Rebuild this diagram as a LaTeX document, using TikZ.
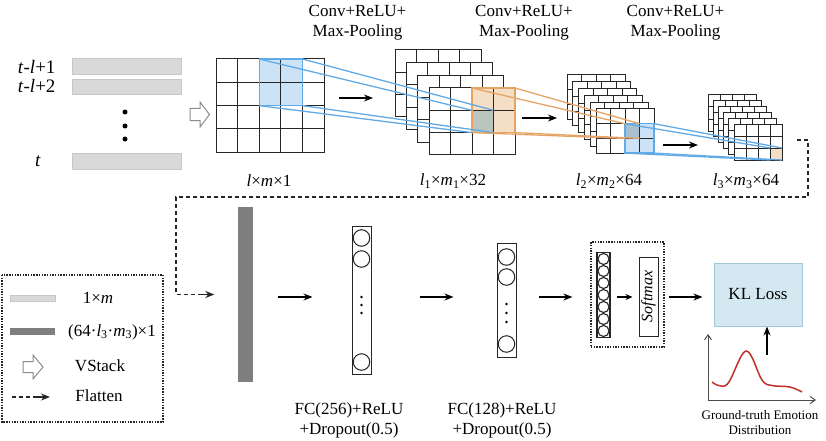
\documentclass[tikz,border=0pt]{standalone}
\usepackage{fontspec}
\setmainfont{Liberation Serif}
\usetikzlibrary{arrows.meta}
\definecolor{barL}{HTML}{D9D9D9}
\definecolor{barLd}{HTML}{C8C8C8}
\definecolor{barD}{HTML}{7F7F7F}
\definecolor{blueF}{HTML}{CCE3F7}
\definecolor{blueL}{HTML}{62AAE6}
\definecolor{orF}{HTML}{F5DEC6}
\definecolor{orL}{HTML}{E4A466}
\definecolor{ovA}{HTML}{BAC5BE}
\definecolor{ovB}{HTML}{A9C1CF}
\definecolor{klF}{HTML}{D3E8F0}
\definecolor{klL}{HTML}{A2C8DA}
\definecolor{redc}{HTML}{C0302A}
\newcommand\fs{\fontsize{17}{20}\selectfont}
\newcommand\sub[1]{\textsubscript{#1}}
\newcommand\fmapbg[6]{\fill[white] ({#1},{#2}) rectangle ({#1+#3*#5},{#2+#4*#6});}
\newcommand\fmapgrid[6]{%
  \foreach \ii in {0,...,#3}{\draw[gridline] ({#1+\ii*#5},{#2}) -- ({#1+\ii*#5},{#2+#4*#6});}%
  \foreach \jj in {0,...,#4}{\draw[gridline] ({#1},{#2+\jj*#6}) -- ({#1+#3*#5},{#2+\jj*#6});}%
}
\begin{document}
\begin{tikzpicture}[x=1pt,y=-1pt,
  every node/.style={font=\fs},
  gridline/.style={draw=black!85,line width=1pt,line cap=rect},
  arr/.style={-{Stealth[length=9pt,width=7pt]},line width=1.2pt},
  blueline/.style={draw=blueL,line width=1.3pt},
  orline/.style={draw=orL,line width=1.3pt},
  inbar/.style={fill=barL,draw=barLd,line width=0.6pt},
  boxn/.style={draw=black!85,line width=1pt,inner sep=0pt,fill=white},
  neuron/.style={draw=black!85,line width=1pt,circle,inner sep=0pt},
  dotbox/.style={draw=black!85,line width=1.2pt,dash pattern=on 1.4pt off 1.3pt},
  flat/.style={draw=black!85,line width=1.1pt,dash pattern=on 4pt off 3pt}]
\useasboundingbox (0,0) rectangle (826,441);

% ---------- input rows ----------
\filldraw[inbar] (72,58) rectangle (181,74);
\filldraw[inbar] (72,79) rectangle (181,94);
\filldraw[inbar] (72,153) rectangle (181,169);
\foreach \yy in {112,126,139} \fill[black] (125,\yy) circle (2.5);
\node[anchor=east,font=\fontsize{19}{20}\selectfont] (r1) at (59,67) {\textit{t}-\textit{l}+1};
\node[anchor=east,font=\fontsize{19}{20}\selectfont] (r2) at (59,86) {\textit{t}-\textit{l}+2};
\node[font=\fontsize{19}{20}\selectfont] (r3) at (38,161) {\textit{t}};
% VStack arrow
\draw[black!45,line width=1pt,fill=white] (190,108.5) -- (200,108.5) -- (200,102) -- (209.5,114.5) -- (200,127) -- (200,120.5) -- (190,120.5) -- cycle;

% ---------- stack 1 ----------
\fmapbg{216}{59}{5}{4}{21.6}{23.3}
\fill[blueF] (259.2,59) rectangle (302.4,105.6);
\fmapgrid{216}{59}{5}{4}{21.6}{23.3}
\draw[blueL,line width=1.3pt] (259.2,59) rectangle (302.4,105.6);

% ---------- stack 2 ----------
\foreach \k in {0,1,2}{%
  \fmapbg{395+\k*11.33}{50+\k*12.67}{4}{3}{21.5}{22.3}
  \fmapgrid{395+\k*11.33}{50+\k*12.67}{4}{3}{21.5}{22.3}
}
\fmapbg{429}{88}{4}{3}{21.5}{22.3}
\fill[orF] (472,88) rectangle (515,132.6);
\fill[ovA] (472,110.3) rectangle (493.5,132.6);
\fmapgrid{429}{88}{4}{3}{21.5}{22.3}
\draw[orL,line width=1.3pt] (472,88) rectangle (515,132.6);

% ---------- stack 3 ----------
\foreach \k in {0,...,4}{%
  \fmapbg{567+\k*5.8}{75+\k*6.8}{4}{3}{14.5}{14.7}
  \fmapgrid{567+\k*5.8}{75+\k*6.8}{4}{3}{14.5}{14.7}
}
\fmapbg{596}{109}{4}{3}{14.5}{14.7}
\fill[blueF] (625,123.7) rectangle (654,153.1);
\fill[ovB] (625,123.7) rectangle (639.5,138.4);
\fmapgrid{596}{109}{4}{3}{14.5}{14.7}
\draw[blueL,line width=1.3pt] (625,123.7) rectangle (654,153.1);

% ---------- stack 4 ----------
\foreach \k in {0,...,4}{%
  \fmapbg{708+\k*5.2}{95+\k*5.8}{4}{3}{12}{12}
  \fmapgrid{708+\k*5.2}{95+\k*5.8}{4}{3}{12}{12}
}
\fmapbg{734}{124}{4}{3}{12}{12}
\fill[orF] (770,148) rectangle (782,160);
\fmapgrid{734}{124}{4}{3}{12}{12}

% ---------- receptive-field lines ----------
\draw[blueline] (259.2,59) -- (472,110.3);
\draw[blueline] (302.4,59) -- (493.5,110.3);
\draw[blueline] (259.2,105.6) -- (472,132.6);
\draw[blueline] (302.4,105.6) -- (493.5,132.6);
\draw[orline] (472,88) -- (625,123.7);
\draw[orline] (515,88) -- (639.5,123.7);
\draw[orline] (472,132.6) -- (625,138.4);
\draw[orline] (515,132.6) -- (639.5,138.4);
\draw[blueline] (625,123.7) -- (770,148);
\draw[blueline] (654,123.7) -- (782,148);
\draw[blueline] (625,153.1) -- (770,160);
\draw[blueline] (654,153.1) -- (782,160);

% arrows between stacks
\coordinate (s1a) at (339,98);  \coordinate (s1b) at (373,98);
\coordinate (s2a) at (522,118); \coordinate (s2b) at (557,118);
\coordinate (s3a) at (663,145); \coordinate (s3b) at (698,145);
\draw[arr] (s1a) -- (s1b);
\draw[arr] (s2a) -- (s2b);
\draw[arr] (s3a) -- (s3b);

% titles and dimension labels
\node[align=center] (t1) at (357.5,23) {Conv+ReLU+\\Max-Pooling};
\node[align=center] (t2) at (524,23) {Conv+ReLU+\\Max-Pooling};
\node[align=center] (t3) at (675.5,23) {Conv+ReLU+\\Max-Pooling};
\node (d1) at (269,181) {\textit{l}×\textit{m}×1};
\node (d2) at (453,181) {\textit{l}\sub{1}×\textit{m}\sub{1}×32};
\node (d3) at (609,181) {\textit{l}\sub{2}×\textit{m}\sub{2}×64};
\node (d4) at (746,181) {\textit{l}\sub{3}×\textit{m}\sub{3}×64};

% ---------- lower row ----------
\node[fill=barD,inner sep=0pt,minimum width=15pt,minimum height=175pt] (fb) at (245,294.5) {};
\coordinate (fstart) at (797,140);
\draw[flat] (fstart) -- (808,140) -- (808,197) -- (176,197) |- ([xshift=-34pt]fb.west);
\draw[arr,black!85] ([xshift=-37pt]fb.west) -- ([xshift=-23pt]fb.west);

\node[boxn,minimum width=19pt,minimum height=148pt] (fc1) at (361.5,300) {};
\foreach \yy in {238,259,362} \node[neuron,minimum size=16.5pt] at (361.5,\yy) {};
\foreach \yy in {297,305,313} \fill (361.5,\yy) circle (1.3);
\node[boxn,minimum width=19pt,minimum height=114pt] (fc2) at (506.5,300) {};
\foreach \yy in {257,277,344} \node[neuron,minimum size=16.5pt] at (506.5,\yy) {};
\foreach \yy in {304,313,322} \fill (506.5,\yy) circle (1.3);

\node[dotbox,minimum width=73pt,minimum height=105pt,inner sep=0pt] (ob) at (627.5,294.5) {};
\node[boxn,line width=1.3pt,minimum width=13pt,minimum height=85pt] (oc) at (603.5,295) {};
\foreach \n in {0,...,6} \node[neuron,minimum size=11pt,line width=1.1pt] at (603.5,{259+\n*12}) {};
\node[boxn,minimum width=19pt,minimum height=79pt] (sm) at (648.5,296.5) {};
\node[rotate=90,font=\fontsize{16}{18}\selectfont] (smt) at (648.5,296.5) {\textit{Softmax}};
\node[fill=klF,draw=klL,line width=1pt,minimum width=88pt,minimum height=63pt,inner sep=0pt] (kl) at (758,294.5) {KL Loss};

\draw[arr] ([xshift=25pt]fb.east |- 0,297) -- ([xshift=-39pt]fc1.west |- 0,297);
\draw[arr] ([xshift=48pt]fc1.east |- 0,297) -- ([xshift=-43pt]fc2.west |- 0,297);
\draw[arr] ([xshift=22pt]fc2.east |- 0,297) -- ([xshift=-18pt]ob.west |- 0,297);
\draw[arr,-{Stealth[length=7pt,width=6pt]}] ([xshift=6pt]oc.east |- 0,297) -- ([xshift=-6pt]sm.west |- 0,297);
\draw[arr] ([xshift=4pt]ob.east |- 0,297) -- ([xshift=-11pt]kl.west |- 0,297);

% ground-truth plot
\coordinate (org) at (708,400);
\draw[black!70,line width=1pt,-{Straight Barb[length=5pt,width=7pt]}] (org) -- (708,334);
\draw[black!70,line width=1pt,-{Straight Barb[length=5pt,width=7pt]}] (org) -- (816,400);
\draw[redc,line width=1.5pt] plot[smooth,tension=0.6] coordinates {(712,382) (727,384.5) (746,351) (762,380) (772,385.5) (790,387) (802,392)};
\draw[arr] ([yshift=-28pt]kl.south -| 767,0) -- (kl.south -| 767,0);
\node[align=center,font=\fontsize{13}{15}\selectfont] (gt) at (760,423) {Ground-truth Emotion\\Distribution};

\node[align=center] (l1) at (349,420) {FC(256)+ReLU\\+Dropout(0.5)};
\node[align=center] (l2) at (502,420) {FC(128)+ReLU\\+Dropout(0.5)};

% ---------- legend ----------
\draw[dotbox] (2,275) rectangle (163,422);
\filldraw[inbar] (10,295) rectangle (55,301);
\node (lg1) at (98,298) {1×\textit{m}};
\fill[barD] (10,328) rectangle (55,335);
\node (lg2) at (112,332) {(64·\textit{l}\sub{3}·\textit{m}\sub{3})×1};
\draw[black!45,line width=1pt,fill=white] (23,361.5) -- (33,361.5) -- (33,355) -- (43,367) -- (33,379) -- (33,372.5) -- (23,372.5) -- cycle;
\node (lg3) at (100,366) {VStack};
\coordinate (la) at (12,397); \coordinate (lm) at (36,397); \coordinate (lb) at (50,397);
\draw[flat] (la) -- (lm);
\draw[arr,black!85] (lm) -- (lb);
\node (lg4) at (99,396) {Flatten};
\end{tikzpicture}
\end{document}
